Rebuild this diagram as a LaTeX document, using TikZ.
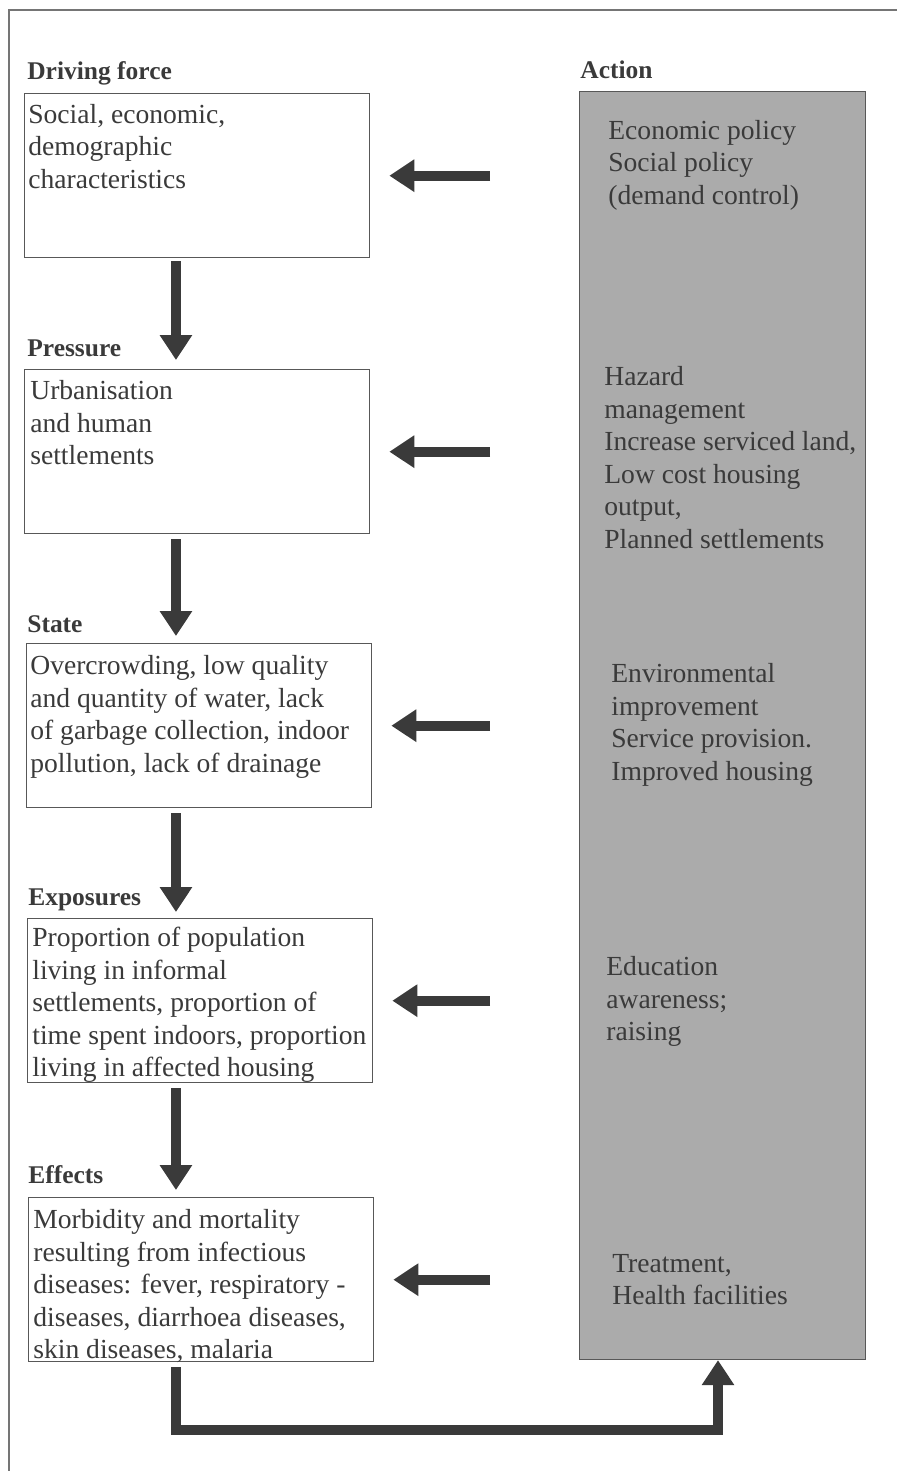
\documentclass[tikz,border=0pt]{standalone}
\usepackage{fontspec}
\setmainfont{Liberation Serif}
\usetikzlibrary{arrows.meta,positioning}

\definecolor{ink}{HTML}{3A3A3A}
\definecolor{actiongray}{HTML}{ABABAB}

\tikzset{
  stagebox/.style={draw=ink!85, line width=0.8pt, anchor=north west, inner sep=0pt,
    minimum width=6.9cm, minimum height=3.28cm},
  stagetext/.style={anchor=north west, align=left, inner sep=0pt, text=ink,
    font=\fontsize{15.7}{18.5}\selectfont},
  stagehead/.style={anchor=base west, inner sep=0pt, text=ink,
    font=\fontsize{14.5}{18}\selectfont\bfseries},
  fatarrow/.style={ink, line width=5.6pt, -{Triangle[length=0.5cm,width=0.62cm]}},
}

\begin{document}
\begin{tikzpicture}[x=0.02cm,y=-0.02cm]
  \useasboundingbox (0,0) rectangle (897,1471);
  % page frame
  \draw[ink!70, line width=0.8pt] (9,1471) -- (9,10) -- (897,10);

  % action column
  \node[stagebox, fill=actiongray, minimum width=5.72cm, minimum height=25.36cm] (action) at (579,91) {};
  \node[stagehead] (actionhead) at (580,78) {Action};
  \node[stagetext] (act1) at (608,120) {Economic policy\\Social policy\\(demand control)};
  \node[stagetext] (act2) at (604,366) {Hazard\\management\\Increase serviced land,\\Low cost housing\\output,\\Planned settlements};
  \node[stagetext] (act3) at (611,663) {Environmental\\improvement\\Service provision.\\Improved housing};
  \node[stagetext] (act4) at (606,956) {Education\\awareness;\\raising};
  \node[stagetext] (act5) at (612,1254) {Treatment,\\Health facilities};

  % stages
  \node[stagehead] (drivehead) at (27,79) {Driving force};
  \node[stagebox] (drive) at (24,93) {};
  \node[stagetext] (drivetext) at (28,104) {Social, economic,\\demographic\\characteristics};

  \node[stagehead] (presshead) at (27,356) {Pressure};
  \node[stagebox] (press) at (24,369) {};
  \node[stagetext] (presstext) at (30,380) {Urbanisation\\and human\\settlements};

  \node[stagehead] (statehead) at (27,632) {State};
  \node[stagebox] (state) at (26,643) {};
  \node[stagetext] (statetext) at (30,655) {Overcrowding, low quality\\and quantity of water, lack\\of garbage collection, indoor\\pollution, lack of drainage};

  \node[stagehead] (exphead) at (28,905) {Exposures};
  \node[stagebox] (exp) at (27,918) {};
  \node[stagetext] (exptext) at (32,927) {Proportion of population\\living in informal\\settlements, proportion of\\time spent indoors, proportion\\living in affected housing};

  \node[stagehead] (effhead) at (28,1183) {Effects};
  \node[stagebox] (eff) at (28,1197) {};
  \node[stagetext] (efftext) at (33,1209) {Morbidity and mortality\\resulting from infectious\\diseases: fever, respiratory -\\diseases, diarrhoea diseases,\\skin diseases, malaria};

  % downward chain
  \draw[fatarrow, shorten <=0.06cm, shorten >=0.18cm] ([xshift=3.04cm]drive.south west) -- ([xshift=3.04cm]press.north west);
  \draw[fatarrow, shorten <=0.1cm, shorten >=0.14cm] ([xshift=3.04cm]press.south west) -- ([xshift=3.04cm]press.south west |- state.north);
  \draw[fatarrow, shorten <=0.1cm, shorten >=0.12cm] ([xshift=3.0cm]state.south west) -- ([xshift=3.0cm]state.south west |- exp.north);
  \draw[fatarrow, shorten <=0.1cm, shorten >=0.14cm] ([xshift=2.98cm]exp.south west) -- ([xshift=2.98cm]exp.south west |- eff.north);

  % actions feeding back
  \foreach \s in {drive,press,state,exp,eff} {
    \draw[fatarrow, shorten <=1.78cm, shorten >=0.38cm] (\s.east -| action.west) -- (\s.east);
  }

  % loop from effects to action
  \coordinate (turn) at (718,1430);
  \draw[fatarrow, shorten <=0.1cm, line join=miter] ([xshift=2.96cm]eff.south west) |- (turn) -- (turn |- action.south);
\end{tikzpicture}
\end{document}
